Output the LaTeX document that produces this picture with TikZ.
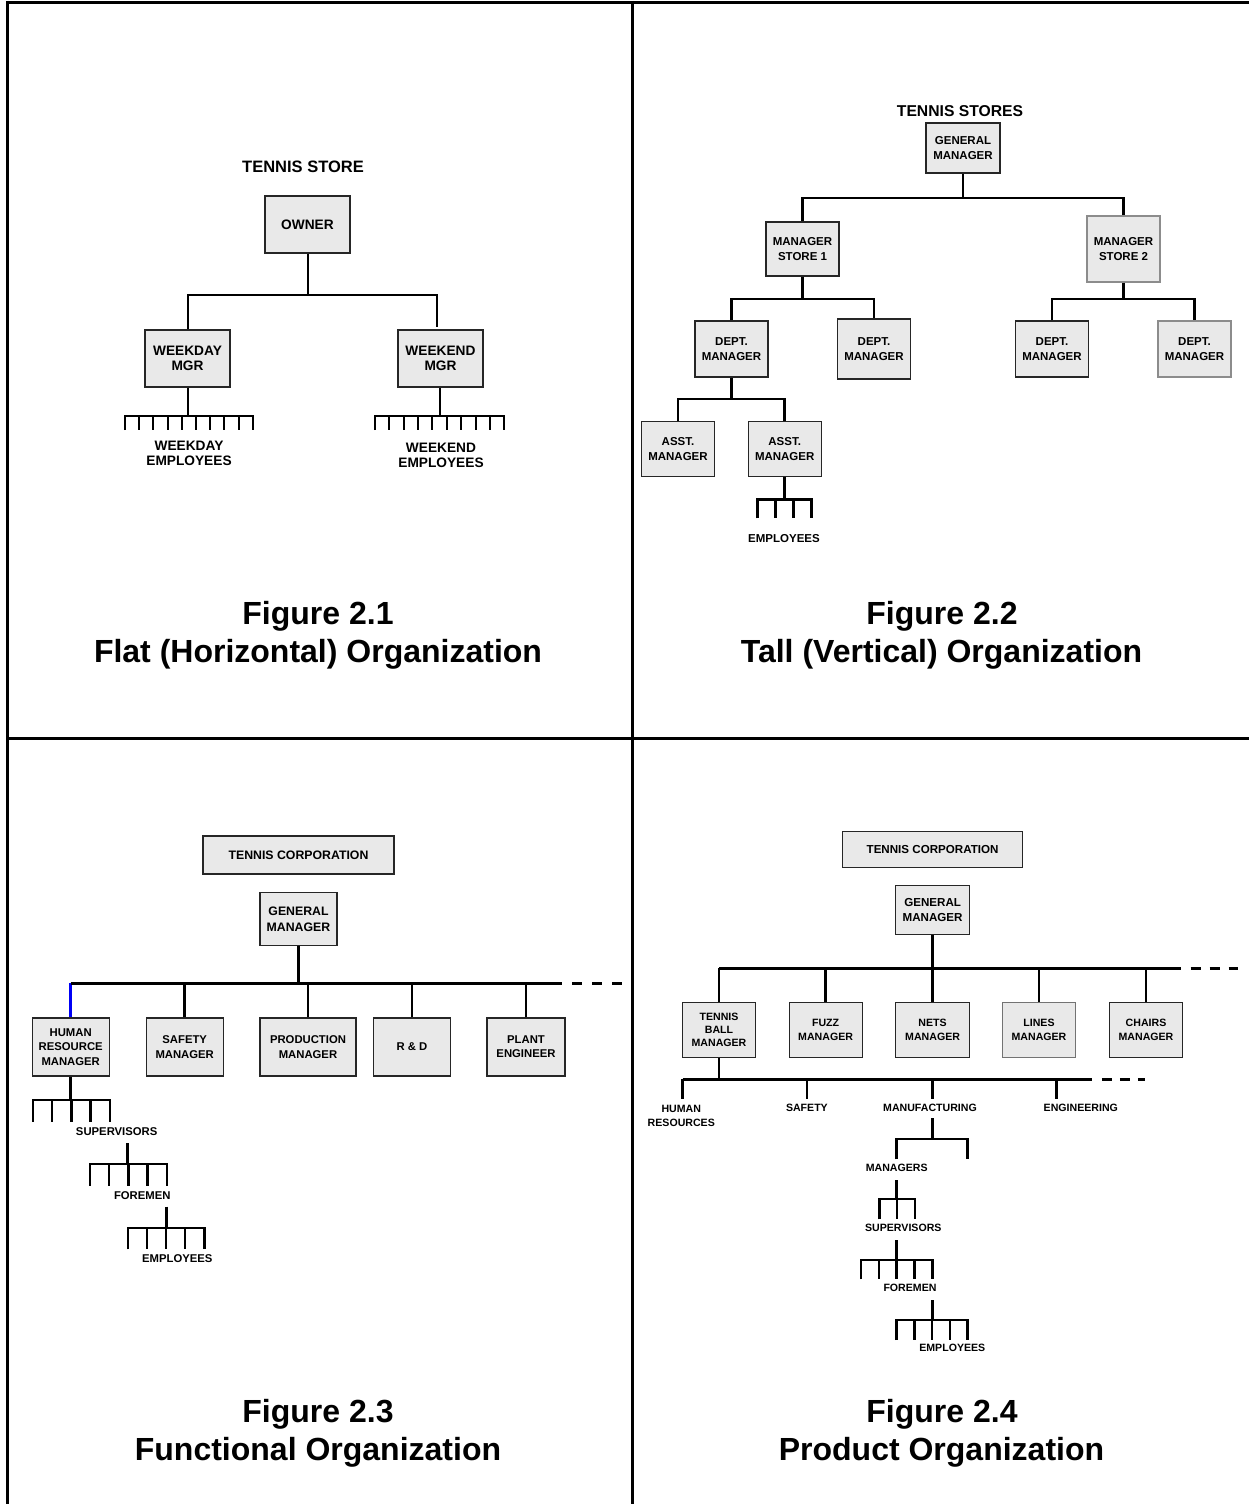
\documentclass[tikz,border=0pt]{standalone}
\usepackage{fontspec}
\setmainfont{Liberation Sans}
\definecolor{boxfill}{RGB}{233,233,233}
\definecolor{hrblue}{RGB}{0,0,245}

% horizontal bar with evenly spaced ticks hanging from it
% #1 left x, #2 right x, #3 bar y, #4 tick end y, #5 number of ticks
\newcommand\tickbar[5]{%
  \draw[rake] (#1,#4) -- (#1,#3) -- (#2,#3) -- (#2,#4);
  \pgfmathsetmacro\tbstep{(#2-#1)/(#5-1)}%
  \pgfmathtruncatemacro\tblast{#5-1}%
  \foreach \k in {0,...,\tblast}{\draw[rake] ({#1+\k*\tbstep},#3) -- ({#1+\k*\tbstep},#4);}%
}

\begin{document}
\begin{tikzpicture}[x=1pt,y=-1pt,
  frame/.style={line width=3pt},
  box/.style={draw=black!85, line width=1.1pt, fill=boxfill, inner sep=0pt, align=center},
  lab/.style={inner sep=0pt, align=center},
  linkA/.style={line width=2pt},
  linkB/.style={line width=2.5pt},
  bus/.style={line width=3.3pt},
  rake/.style={line width=2.4pt},
  fQa/.style={font=\fontsize{13.7}{15}\selectfont\bfseries},
  fQaT/.style={font=\fontsize{16.5}{18}\selectfont\bfseries},
  fQb/.style={font=\fontsize{11.5}{15}\selectfont\bfseries},
  fQbT/.style={font=\fontsize{15.7}{18}\selectfont\bfseries},
  fQc/.style={font=\fontsize{11.3}{14.3}\selectfont\bfseries},
  fQcG/.style={font=\fontsize{12.3}{15.6}\selectfont\bfseries},
  fQd/.style={font=\fontsize{10.6}{13.3}\selectfont\bfseries},
  fQdG/.style={font=\fontsize{11.6}{15}\selectfont\bfseries},
  caption/.style={inner sep=0pt, font=\fontsize{32}{38}\selectfont\bfseries, text height=22.9pt, text depth=0pt}
]
\fill[white] (0,0) rectangle (1249,1504);
\useasboundingbox (0,0) rectangle (1249,1504);

% ---------- frame ----------
\draw[frame] (6,2.5) -- (1249,2.5);
\draw[frame] (7.5,1) -- (7.5,1504);
\draw[frame] (632,1) -- (632,1504);
\draw[frame] (7.5,738) -- (1249,738);

% ---------- Figure 2.1 : flat organization ----------
\node[lab,fQaT] (q1title) at (303,167) {TENNIS STORE};
\node[box,fQa,minimum width=85pt,minimum height=57pt] (owner) at (307.5,224.5) {OWNER};
\node[box,fQa,minimum width=85pt,minimum height=57pt] (wdmgr) at (187.5,358.5) {WEEKDAY\\MGR};
\node[box,fQa,minimum width=85pt,minimum height=57pt] (wemgr) at (440.5,358.5) {WEEKEND\\MGR};
\coordinate (q1j) at (307.5,295);
\coordinate (q1r) at (437,327);
\draw[linkA] (owner.south) -- (q1j);
\draw[linkA] (wdmgr.north) |- (q1j) -| (q1r);
\coordinate (wdbar) at (187.5,416);
\coordinate (webar) at (440,416);
\draw[linkA] (wdmgr.south) -- (wdbar);
\draw[linkA] (wemgr.south -| webar) -- (webar);
\tikzset{rake/.style={line width=2pt}}
\tickbar{125}{252.7}{416}{430}{10}
\tickbar{375}{504.3}{416}{430}{10}
\node[lab,fQa] (wdemp) at (189,453.8) {WEEKDAY\\EMPLOYEES};
\node[lab,fQa] (weemp) at (441,455.5) {WEEKEND\\EMPLOYEES};
\node[caption] (cap1a) at (318,613) {Figure 2.1};
\node[caption] (cap1b) at (318,651) {Flat (Horizontal) Organization};

% ---------- Figure 2.2 : tall organization ----------
\node[lab,fQbT] (q2title) at (960,111) {TENNIS STORES};
\node[box,fQb,minimum width=74pt,minimum height=50pt] (gm2) at (963,148) {GENERAL\\MANAGER};
\node[box,fQb,minimum width=73pt,minimum height=54pt] (ms1) at (802.5,249) {MANAGER\\STORE 1};
\node[box,fQb,minimum width=73pt,minimum height=66pt,draw=black!45] (ms2) at (1123.5,249) {MANAGER\\STORE 2};
\node[box,fQb,minimum width=73pt,minimum height=56pt] (dm1) at (731.5,349) {DEPT.\\MANAGER};
\node[box,fQb,minimum width=73pt,minimum height=60pt] (dm2) at (874,349) {DEPT.\\MANAGER};
\node[box,fQb,minimum width=73pt,minimum height=56pt] (dm3) at (1052,349) {DEPT.\\MANAGER};
\node[box,fQb,minimum width=73pt,minimum height=56pt,draw=black!45] (dm4) at (1194.5,349) {DEPT.\\MANAGER};
\node[box,fQb,minimum width=73pt,minimum height=55pt] (am1) at (678,449.2) {ASST.\\MANAGER};
\node[box,fQb,minimum width=73pt,minimum height=55pt] (am2) at (784.7,449.2) {ASST.\\MANAGER};
\coordinate (j2a) at (963,198);
\coordinate (j2b) at (802.5,299);
\coordinate (j2c) at (1123.5,299);
\coordinate (j2d) at (731.5,399);
\draw[linkB] (gm2.south) -- (j2a);
\draw[linkB] (ms1.north) |- (j2a) -| (ms2.north);
\draw[linkB] (ms1.south) -- (j2b);
\draw[linkB] (dm1.north) |- (j2b) -| (dm2.north);
\draw[linkB] (ms2.south) -- (j2c);
\draw[linkB] (dm3.north) |- (j2c) -| (dm4.north);
\draw[linkB] (dm1.south) -- (j2d);
\draw[linkB] (am1.north) |- (j2d) -| (am2.north);
\coordinate (embar2) at (784.7,499.3);
\draw[linkB] (am2.south) -- (embar2);
\tikzset{rake/.style={line width=2.5pt}}
\tickbar{757.7}{811.7}{499.3}{518.3}{4}
\node[lab,fQb] (emp2) at (784,538.7) {EMPLOYEES};
\node[caption] (cap2a) at (942,613) {Figure 2.2};
\node[caption] (cap2b) at (941.5,651) {Tall (Vertical) Organization};

% ---------- Figure 2.3 : functional organization ----------
\node[box,fQcG,minimum width=191pt,minimum height=38pt] (tc3) at (298.5,855) {TENNIS CORPORATION};
\node[box,fQcG,minimum width=77pt,minimum height=53pt] (gm3) at (298.5,919.2) {GENERAL\\MANAGER};
\node[box,fQc,minimum width=77pt,minimum height=58pt] (hr3) at (70.7,1047) {HUMAN\\RESOURCE\\MANAGER};
\node[box,fQc,minimum width=77pt,minimum height=58pt] (sf3) at (184.7,1047) {SAFETY\\MANAGER};
\node[box,fQc,minimum width=96pt,minimum height=58pt] (pr3) at (308,1047) {PRODUCTION\\MANAGER};
\node[box,fQc,minimum width=77pt,minimum height=58pt] (rd3) at (412,1047) {R \& D};
\node[box,fQc,minimum width=78pt,minimum height=58pt] (pe3) at (526,1047) {PLANT\\ENGINEER};
\coordinate (b3m) at (298.5,983.3);
\coordinate (b3l) at (70.7,983.3);
\coordinate (b3r) at (562,983.3);
\coordinate (b3d1) at (572,983.3);
\coordinate (b3d2) at (622,983.3);
\draw[linkB] (gm3.south) -- (b3m);
\draw[linkB] (sf3.north) -- (sf3.north |- b3m);
\draw[linkB] (pr3.north) -- (pr3.north |- b3m);
\draw[linkB] (rd3.north) -- (rd3.north |- b3m);
\draw[linkB] (pe3.north) -- (pe3.north |- b3m);
\draw[linkB,hrblue] (hr3.north) -- (b3l);
\draw[bus] (b3l) -- (b3r);
\draw[bus,dash pattern=on 10pt off 10pt] (b3d1) -- (b3d2);
\tikzset{rake/.style={line width=2.4pt}}
\coordinate (r3a) at (70.7,1100);
\draw[linkB] (hr3.south) -- (r3a);
\tickbar{32.7}{110}{1100}{1121.7}{5}
\node[lab,fQc] (sup3) at (116.7,1131.3) {SUPERVISORS};
\coordinate (r3b0) at (127.7,1143.3);
\coordinate (r3b) at (127.7,1164);
\draw[linkB] (r3b0) -- (r3b);
\tickbar{90}{166.7}{1164}{1185.7}{5}
\node[lab,fQc] (for3) at (142.3,1195.3) {FOREMEN};
\coordinate (r3c0) at (166.7,1206.7);
\coordinate (r3c) at (166.7,1227.7);
\draw[linkB] (r3c0) -- (r3c);
\tickbar{127.7}{204.3}{1227.7}{1249.3}{5}
\node[lab,fQc] (emp3) at (177.3,1259) {EMPLOYEES};
\node[caption] (cap3a) at (318,1411) {Figure 2.3};
\node[caption] (cap3b) at (318,1449) {Functional Organization};

% ---------- Figure 2.4 : product organization ----------
\node[box,fQdG,minimum width=180.4pt,minimum height=35.6pt] (tc4) at (932.6,849.5) {TENNIS CORPORATION};
\node[box,fQdG,minimum width=73.8pt,minimum height=49.3pt] (gm4) at (932.6,909.7) {GENERAL\\MANAGER};
\node[box,fQd,minimum width=73pt,minimum height=55pt] (tb4) at (719,1029.8) {TENNIS\\BALL\\MANAGER};
\node[box,fQd,minimum width=73pt,minimum height=55pt] (fz4) at (825.6,1029.8) {FUZZ\\MANAGER};
\node[box,fQd,minimum width=73.8pt,minimum height=55pt] (nt4) at (932.6,1029.8) {NETS\\MANAGER};
\node[box,fQd,minimum width=73.7pt,minimum height=55pt,draw=black!55] (ln4) at (1039,1029.8) {LINES\\MANAGER};
\node[box,fQd,minimum width=73.7pt,minimum height=55pt] (ch4) at (1146,1029.8) {CHAIRS\\MANAGER};
\coordinate (b4m) at (932.6,968.3);
\coordinate (b4l) at (719,968.3);
\coordinate (b4r) at (1180.7,968.3);
\coordinate (b4d1) at (1190.6,968.3);
\coordinate (b4d2) at (1238,968.3);
\draw[linkB] (gm4.south) -- (b4m);
\foreach \n in {tb4,fz4,nt4,ln4,ch4}{\draw[linkB] (\n.north) -- (\n.north |- b4m);}
\draw[bus] (b4l) -- (b4r);
\draw[bus,dash pattern=on 10pt off 9pt] (b4d1) -- (b4d2);
% second level bus below the tennis ball manager
\coordinate (c4m) at (719,1079.3);
\coordinate (c4l) at (682.5,1079.3);
\coordinate (c4r) at (1092,1079.3);
\coordinate (c4d1) at (1101.8,1079.3);
\coordinate (c4d2) at (1145.2,1079.3);
\draw[linkB] (tb4.south) -- (c4m);
\draw[linkB] (c4l) -- (c4r);
\draw[linkB,dash pattern=on 10pt off 8pt] (c4d1) -- (c4d2);
\node[lab,fQd] (hr4) at (681.3,1115.8) {HUMAN\\RESOURCES};
\node[lab,fQd] (sf4) at (806.9,1108.3) {SAFETY};
\node[lab,fQd] (mf4) at (930,1108.3) {MANUFACTURING};
\node[lab,fQd] (en4) at (1080.8,1108.3) {ENGINEERING};
\draw[linkB] (c4l) -- (682.5,1099.3);
\draw[linkB] (806.9,1079.3) -- (806.9,1099.3);
\draw[bus] (932.3,1079.3) -- (932.3,1099.3);
\draw[linkB] (1056.4,1079.3) -- (1056.4,1099.3);
\tikzset{rake/.style={line width=2.5pt}}
\coordinate (r4a0) at (932.3,1118);
\coordinate (r4a) at (932.3,1139);
\draw[bus] (r4a0) -- (r4a);
\tickbar{896.7}{967.7}{1139}{1159.3}{2}
\node[lab,fQd] (mg4) at (896.7,1168.3) {MANAGERS};
\coordinate (r4b0) at (896.7,1180);
\coordinate (r4b) at (896.7,1199);
\draw[linkB] (r4b0) -- (r4b);
\tickbar{879.3}{915}{1199}{1219.3}{3}
\node[lab,fQd] (sp4) at (903.3,1228.3) {SUPERVISORS};
\coordinate (r4c0) at (896.7,1240);
\coordinate (r4c) at (896.7,1260);
\draw[linkB] (r4c0) -- (r4c);
\tickbar{861}{932.3}{1260}{1279.3}{5}
\node[lab,fQd] (fm4) at (910,1288.3) {FOREMEN};
\coordinate (r4d0) at (932.3,1300);
\coordinate (r4d) at (932.3,1320);
\draw[linkB] (r4d0) -- (r4d);
\tickbar{896.7}{967.7}{1320}{1340}{5}
\node[lab,fQd] (em4) at (952.3,1348.3) {EMPLOYEES};
\node[caption] (cap4a) at (942,1411) {Figure 2.4};
\node[caption] (cap4b) at (941.5,1449) {Product Organization};
\end{tikzpicture}
\end{document}
